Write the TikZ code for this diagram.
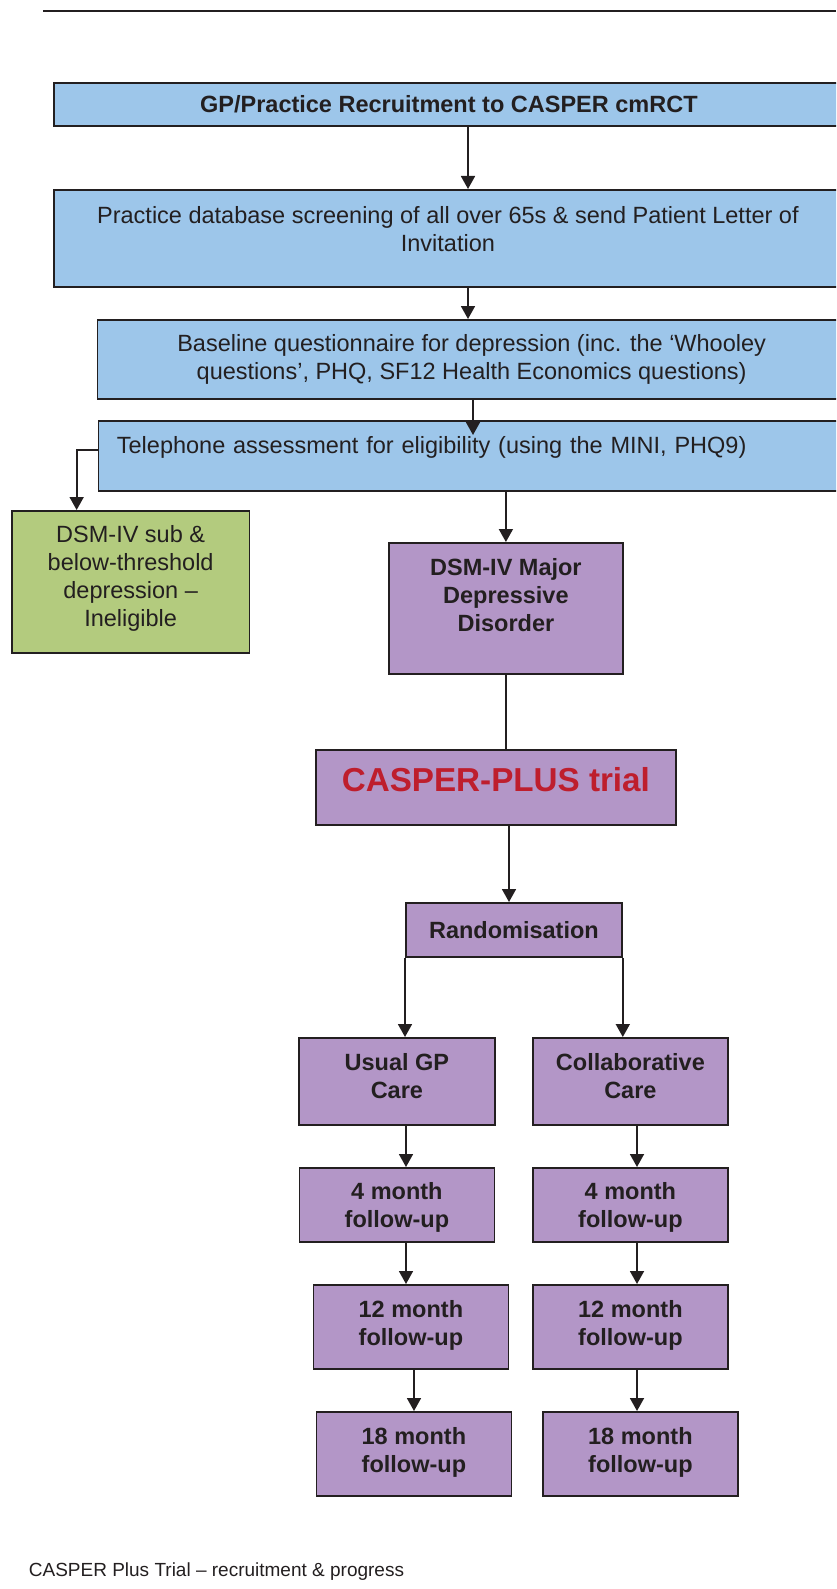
\documentclass[tikz,border=0pt]{standalone}
\usepackage{fontspec}
\setmainfont{Liberation Sans}
\usetikzlibrary{positioning, calc, arrows.meta}
\definecolor{boxblue}{rgb}{0.616,0.776,0.918}
\definecolor{boxpurple}{rgb}{0.702,0.588,0.780}
\definecolor{boxgreen}{rgb}{0.702,0.796,0.494}
\definecolor{trialred}{rgb}{0.745,0.118,0.176}
\definecolor{inkgray}{rgb}{0.137,0.122,0.125}
\newcommand{\bodysize}{\fontsize{11.75}{14}\selectfont}

\begin{document}
\begin{tikzpicture}[
  x=0.5pt, y=-0.5pt,
  every node/.style={
    draw=inkgray,
    line width=0.9pt,
    text=inkgray,
    anchor=north west,
    inner sep=1pt,
    align=center,
    font=\bodysize
  },
  blue box/.style={fill=boxblue},
  purple box/.style={fill=boxpurple, font=\bodysize\bfseries},
  green box/.style={fill=boxgreen},
  flow arrow/.style={
    -{Triangle[length=6.5pt,width=7pt]},
    draw=inkgray,
    line width=0.9pt
  },
  flow line/.style={draw=inkgray, line width=0.9pt}
]
\useasboundingbox (0,0) rectangle (836,1589);
\clip (0,0) rectangle (836,1589);

\draw[flow line, line width=1pt] (43,11) -- (836,11);

\coordinate (spine) at (468,0);
\coordinate (spine2) at (473,0);
\coordinate (mid) at (509,0);
\coordinate (lcol) at (406,0);
\coordinate (lcol2) at (414,0);
\coordinate (rcol) at (637,0);

\node(recruit)[blue box, minimum width=395pt, minimum height=21.5pt, font=\bodysize\bfseries] at (53,82) {GP/Practice Recruitment to CASPER cmRCT};
\node(screen)[blue box, minimum width=394pt, minimum height=48.5pt, text depth=9.5pt] at (53,189) {Practice database screening of all over 65s \& send Patient Letter of\\Invitation};
\node(base)[blue box, minimum width=374.25pt, minimum height=39.5pt] at (96.5,319) {Baseline questionnaire for depression (inc. the ‘Whooley\\questions’, PHQ, SF12 Health Economics questions)};
\node(phone)[blue box, text width=355.1pt, inner xsep=9.2pt, align=left, minimum height=35pt, text depth=11pt] at (97.6,420) {Telephone assessment for eligibility (using the MINI, PHQ9)};

\node(inel)[green box, minimum width=118.75pt, minimum height=71pt, text depth=5.5pt] at (11,510) {DSM-IV sub \&\\below-threshold\\depression –\\Ineligible};
\node(dsm)[purple box, minimum width=117pt, minimum height=65.5pt, text depth=13.5pt] at (388,542) {DSM-IV Major\\Depressive\\Disorder};
\node(casper)[purple box, minimum width=180pt, minimum height=37.5pt, text depth=7.5pt, text=trialred, font=\fontsize{16.6}{20}\selectfont\bfseries] at (315,749) {CASPER-PLUS trial};
\node(rand)[purple box, minimum width=108pt, minimum height=27pt] at (405,902) {Randomisation};

\node(usual)[purple box, minimum width=98pt, minimum height=43.5pt, text depth=5.5pt] at (298,1037) {Usual GP\\Care};
\node(collab)[purple box, right=18.1pt of usual, minimum width=97.5pt, minimum height=43.5pt, text depth=5.5pt] {Collaborative\\Care};

\node(fourL)[purple box, below=20.6pt of usual, minimum width=97.5pt, minimum height=37pt, text depth=0pt] {4 month\\follow-up};
\node(fourR)[purple box, below=20.6pt of collab, minimum width=97.5pt, minimum height=37pt, text depth=0pt] {4 month\\follow-up};
\node(twelveL)[purple box, below=20.6pt of fourL, xshift=7pt, minimum width=97.5pt, minimum height=42pt, text depth=3.5pt] {12 month\\follow-up};
\node(twelveR)[purple box, below=20.6pt of fourR, minimum width=97.5pt, minimum height=42pt, text depth=3.5pt] {12 month\\follow-up};
\node(eighteenL)[purple box, below=20.6pt of twelveL, xshift=1.5pt, minimum width=97.5pt, minimum height=42pt, text depth=3.5pt] {18 month\\follow-up};
\node(eighteenR)[purple box, below=20.6pt of twelveR, xshift=5pt, minimum width=97.5pt, minimum height=42pt, text depth=3.5pt] {18 month\\follow-up};

\node(caption)[draw=none, anchor=west, inner sep=0pt, font=\fontsize{9.5}{11}\selectfont] at (28,1572) {CASPER Plus Trial – recruitment \& progress};

\draw[flow arrow] (recruit.south -| spine) -- (screen.north -| spine);
\draw[flow arrow] (screen.south -| spine) -- (base.north -| spine);
\draw[flow arrow] (base.south -| spine2) -- ($(phone.north -| spine2)+(0,15)$);
\draw[flow arrow] ([yshift=3pt]phone.west) -| ([xshift=-27pt]inel.north);
\draw[flow arrow] (phone.south -| dsm.north) -- (dsm.north);
\draw[flow line] (dsm.south) -- (dsm.south |- casper.north);
\draw[flow arrow] (casper.south -| mid) -- (rand.north -| mid);

\draw[flow arrow] (rand.south west) -- (rand.south west |- usual.north);
\draw[flow arrow] (rand.south east) -- (rand.south east |- collab.north);

\draw[flow arrow] (usual.south -| lcol) -- (fourL.north -| lcol);
\draw[flow arrow] (fourL.south -| lcol) -- (twelveL.north -| lcol);
\draw[flow arrow] (twelveL.south -| lcol2) -- (eighteenL.north -| lcol2);

\draw[flow arrow] (collab.south -| rcol) -- (fourR.north -| rcol);
\draw[flow arrow] (fourR.south -| rcol) -- (twelveR.north -| rcol);
\draw[flow arrow] (twelveR.south -| rcol) -- (eighteenR.north -| rcol);

\end{tikzpicture}
\end{document}
